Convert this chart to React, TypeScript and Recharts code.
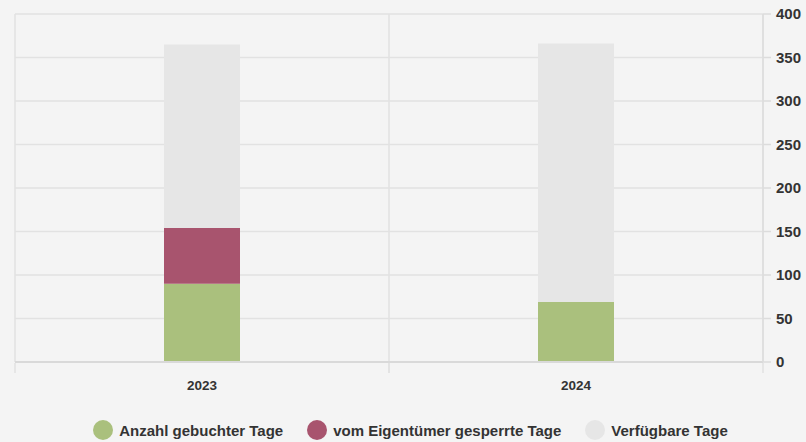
import React from "react";
import { BarChart, Bar, XAxis, YAxis, CartesianGrid, Legend } from "recharts";

const years = ["2023", "2024"];
const booked = [90, 69];
const blocked = [64, 0];
const available = [211, 297];
const yTicks = [0, 50, 100, 150, 200, 250, 300, 350, 400];

const series = [
  { key: "booked", name: "Anzahl gebuchter Tage", color: "#aac07d" },
  { key: "blocked", name: "vom Eigentümer gesperrte Tage", color: "#a8546e" },
  { key: "available", name: "Verfügbare Tage", color: "#e6e6e6" },
];

const data = years.map((year, i) => ({
  year,
  idx: i + 0.5,
  booked: booked[i],
  blocked: blocked[i],
  available: available[i],
}));

const font = "'Liberation Sans', Arial, sans-serif";

function LegendContent() {
  return (
    <div style={{ display: "flex", justifyContent: "center", alignItems: "center", fontFamily: font, height: 24 }}>
      {series.map((s, i) => (
        <div key={s.key} style={{ display: "flex", alignItems: "center", marginRight: i < series.length - 1 ? 24 : 0 }}>
          <span style={{ width: 20, height: 20, borderRadius: "50%", background: s.color, display: "inline-block", marginRight: 6 }} />
          <span style={{ fontSize: 15, fontWeight: 700, color: "#333" }}>{s.name}</span>
        </div>
      ))}
    </div>
  );
}

// year label plus the short tick marks on the band edges
function YearTick(props: any) {
  const { x, y, payload, width } = props;
  const half = width / years.length / 2;
  return (
    <g>
      <line x1={x - half} x2={x - half} y1={y - 19} y2={y - 9} stroke="#e2e2e2" strokeWidth={1.5} />
      <line x1={x + half} x2={x + half} y1={y - 19} y2={y - 9} stroke="#e2e2e2" strokeWidth={1.5} />
      <text x={x} y={y} dy={8} textAnchor="middle" fill="#333" fontSize={13.5} fontWeight={700} fontFamily={font}>
        {payload.value}
      </text>
    </g>
  );
}

export default function App() {
  return (
    <div style={{ position: "absolute", left: 0, top: 0, width: 806, height: 442, background: "#f4f4f4" }}>
      <BarChart width={806} height={442} data={data} margin={{ top: 14, right: 0, left: 15, bottom: 0 }}>
        <CartesianGrid xAxisId="edge" stroke="#e2e2e2" strokeWidth={1.5} />
        <XAxis
          xAxisId="cat"
          dataKey="year"
          height={56}
          tickLine={false}
          axisLine={{ stroke: "#d9d9d9", strokeWidth: 2 }}
          tickMargin={14}
          tick={<YearTick />}
        />
        {/* boundary axis: vertical grid lines between the years */}
        <XAxis xAxisId="edge" type="number" dataKey="idx" domain={[0, 2]} ticks={[0, 1, 2]} hide />
        <YAxis
          orientation="right"
          width={43}
          domain={[0, 400]}
          ticks={yTicks}
          axisLine={{ stroke: "#dcdcdc", strokeWidth: 1.5 }}
          tickLine={{ stroke: "#dcdcdc", strokeWidth: 1.5 }}
          tickSize={8}
          tickMargin={5}
          tick={{ fill: "#333", fontSize: 15, fontWeight: 700, fontFamily: font }}
        />
        <Legend verticalAlign="bottom" height={24} content={<LegendContent />} />
        {series.map((s) => (
          <Bar
            key={s.key}
            xAxisId="cat"
            dataKey={s.key}
            name={s.name}
            stackId="a"
            fill={s.color}
            barSize={76}
            isAnimationActive={false}
          />
        ))}
      </BarChart>
    </div>
  );
}
